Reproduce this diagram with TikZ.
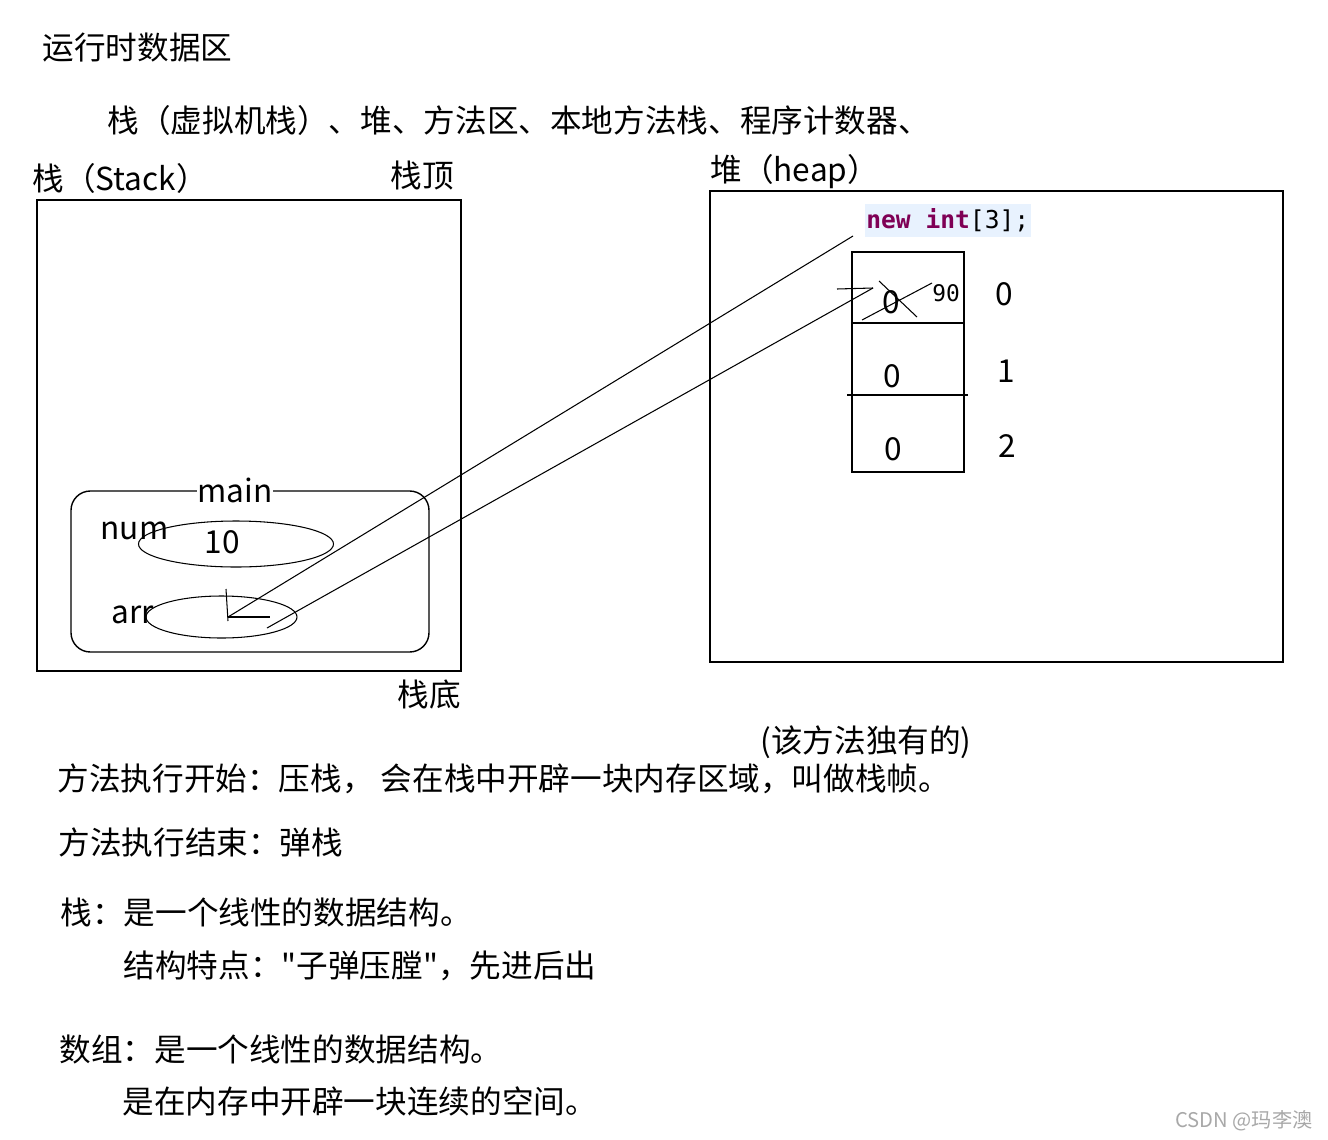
\documentclass[tikz,border=0pt]{standalone}
\usepackage{fontspec}
\setmainfont{Noto Sans CJK SC}
\newfontfamily\plainfont{Noto Sans CJK SC}
\newfontfamily\codefont{DejaVu Sans Mono}
\definecolor{keyword}{HTML}{7F0055}
\definecolor{codebg}{HTML}{E8F2FE}
\definecolor{watermark}{HTML}{A8A8A8}

\begin{document}
\begin{tikzpicture}[x=0.02cm, y=-0.02cm, line width=0.6pt,
  every node/.style={inner sep=0pt, font=\plainfont\fontsize{18}{22}\selectfont},
  txt/.style={anchor=west},
  box/.style={line width=0.8pt},
  code/.style={anchor=west, fill=codebg, inner xsep=1pt, minimum height=18.5pt,
               font=\codefont\fontsize{14}{16}\selectfont}]
  \useasboundingbox (0,0) rectangle (1328,1139);

  % headings
  \node[txt] (title) at (42,48) {运行时数据区};
  \node[txt] (areas) at (107,120) {栈（虚拟机栈）、堆、方法区、本地方法栈、程序计数器、};

  % stack
  \node[txt] (stackName) at (32,178) {栈（Stack）};
  \node[txt] (stackTop) at (390,176) {栈顶};
  \draw[box] (37,200) rectangle (461,671);
  \node[txt] (stackBottom) at (397,694) {栈底};

  % frame of main
  \draw[box, rounded corners=11pt] (71,491) rectangle (429,652);
  \node[fill=white] (main) at (235,490) {main};
  \node[txt] (num) at (100,531) {num};
  \draw (236,544) ellipse [x radius=97.5, y radius=23];
  \node (numVal) at (222,542) {10};
  \node[txt] (arr) at (111,615) {arr};
  \draw (221.5,617) ellipse [x radius=75.5, y radius=21];

  % heap
  \node[txt] (heapName) at (710,172) {堆（heap）};
  \draw[box] (710,191) rectangle (1283,662);
  \node[code] (newExpr) at (864,220.5) {\textcolor{keyword}{\textbf{new int}}[3];};

  % array cells
  \draw[box] (852,252) rectangle (964,472);
  \draw (852,323) -- (964,323);
  \draw (847,395) -- (968,395);
  \node (cell0) at (891,302) {0};
  \node (cell1) at (892,376) {0};
  \node (cell2) at (893,449) {0};
  \node (idx0) at (1004,294) {0};
  \node (idx1) at (1006,371) {1};
  \node (idx2) at (1007,446) {2};
  \node[font=\codefont\fontsize{13}{15}\selectfont] (newVal) at (946,293) {90};
  \draw (879,281) -- (917,317);
  \draw (862,320) -- (932,283);

  % reference arr -> array
  \coordinate (ptr) at (228,617);
  \coordinate (refA) at (853,236);
  \coordinate (refB) at (267,628);
  \coordinate (tipB) at (873,288);
  \draw (226,589) -- (228,621);
  \draw (ptr) -- (270,617);
  \draw (ptr) -- (refA);
  \draw (refB) -- (tipB);
  \draw (837,289) -- (tipB);

  % notes
  \node[txt] (own) at (760,742) {(该方法独有的)};
  \node[txt] (push) at (57,779) {方法执行开始：压栈， 会在栈中开辟一块内存区域，叫做栈帧。};
  \node[txt] (pop) at (58,842) {方法执行结束：弹栈};
  \node[txt] (stackDef) at (60,912) {栈：是一个线性的数据结构。};
  \node[txt] (stackFeat) at (123,966) {结构特点："子弹压膛"，先进后出};
  \node[txt] (arrDef) at (59,1049) {数组：是一个线性的数据结构。};
  \node[txt] (arrFeat) at (122,1101) {是在内存中开辟一块连续的空间。};
  \node[anchor=east, text=watermark, font=\plainfont\fontsize{11.5}{13}\selectfont] (credit) at (1313,1121) {CSDN @玛李澳};
\end{tikzpicture}
\end{document}
